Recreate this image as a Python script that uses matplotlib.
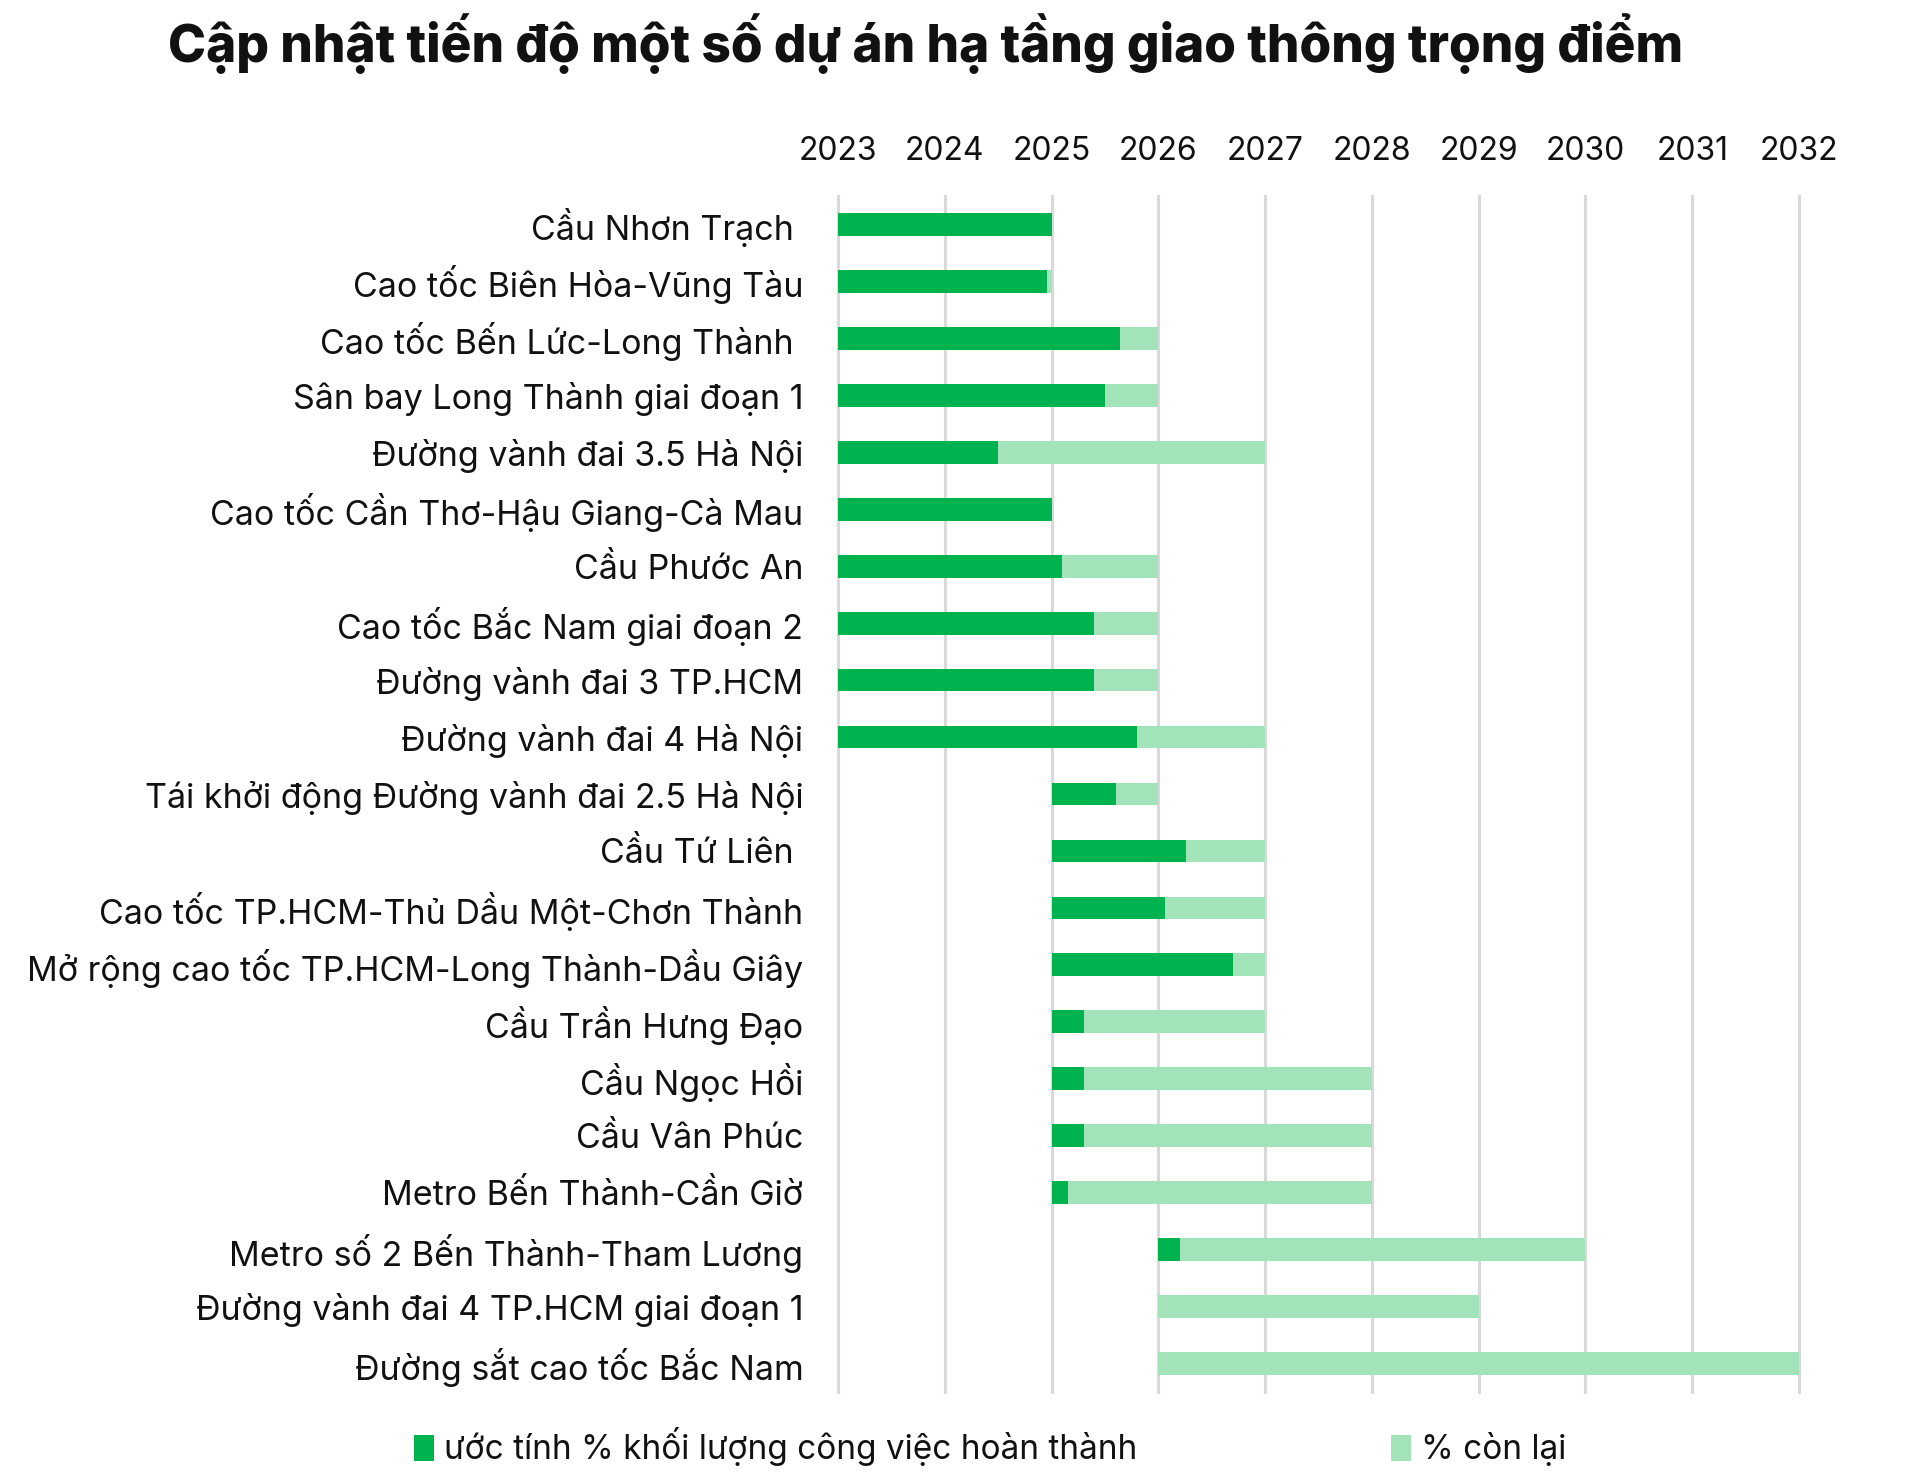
import matplotlib
matplotlib.use("Agg")
import matplotlib.pyplot as plt
from matplotlib.patches import Patch

plt.rcParams['font.family'] = ['Inter', 'DejaVu Sans']

projects = [
    "Cầu Nhơn Trạch ",
    "Cao tốc Biên Hòa-Vũng Tàu",
    "Cao tốc Bến Lức-Long Thành ",
    "Sân bay Long Thành giai đoạn 1",
    "Đường vành đai 3.5 Hà Nội",
    "Cao tốc Cần Thơ-Hậu Giang-Cà Mau",
    "Cầu Phước An",
    "Cao tốc Bắc Nam giai đoạn 2",
    "Đường vành đai 3 TP.HCM",
    "Đường vành đai 4 Hà Nội",
    "Tái khởi động Đường vành đai 2.5 Hà Nội",
    "Cầu Tứ Liên ",
    "Cao tốc TP.HCM-Thủ Dầu Một-Chơn Thành",
    "Mở rộng cao tốc TP.HCM-Long Thành-Dầu Giây",
    "Cầu Trần Hưng Đạo",
    "Cầu Ngọc Hồi",
    "Cầu Vân Phúc",
    "Metro Bến Thành-Cần Giờ",
    "Metro số 2 Bến Thành-Tham Lương",
    "Đường vành đai 4 TP.HCM giai đoạn 1",
    "Đường sắt cao tốc Bắc Nam",
]
start_year = [2023, 2023, 2023, 2023, 2023, 2023, 2023, 2023, 2023, 2023,
              2025, 2025, 2025, 2025, 2025, 2025, 2025, 2025, 2026, 2026, 2026]
done_until = [2025.0, 2024.96, 2025.64, 2025.50, 2024.50, 2025.0, 2025.10, 2025.40, 2025.40, 2025.80,
              2025.60, 2026.26, 2026.06, 2026.70, 2025.30, 2025.30, 2025.30, 2025.15, 2026.20, 2026.0, 2026.0]
end_year = [2025, 2025, 2026, 2026, 2027, 2025, 2026, 2026, 2026, 2027,
            2026, 2027, 2027, 2027, 2027, 2028, 2028, 2028, 2030, 2029, 2032]
years = list(range(2023, 2033))
legend_labels = ["ước tính % khối lượng công việc hoàn thành", "% còn lại"]

GREEN = "#00B34F"
LIGHT = "#A3E3B9"

fig = plt.figure(figsize=(19.2, 14.82), dpi=100)
ax = fig.add_axes([838 / 1920, 1 - 1392 / 1482, (1799 - 838) / 1920, (1392 - 196) / 1482])

ypos = list(range(len(projects)))
done_w = [d - s for d, s in zip(done_until, start_year)]
rem_w = [e - d for e, d in zip(end_year, done_until)]
ax.barh(ypos, done_w, left=start_year, height=0.4, color=GREEN, zorder=3)
ax.barh(ypos, rem_w, left=done_until, height=0.4, color=LIGHT, zorder=3)

ax.set_ylim(len(projects) - 0.5, -0.5)
ax.set_xlim(2023, 2032)
ax.set_xticks(years)
ax.set_xticklabels([str(y) for y in years])
ax.xaxis.tick_top()
ax.tick_params(axis='x', length=0, labelsize=23, pad=21)
ax.set_yticks(ypos)
ax.set_yticklabels(projects)
ax.tick_params(axis='y', length=0, labelsize=24.5, pad=25)
for lbl in ax.get_yticklabels():
    lbl.set_color("#111111")
for lbl in ax.get_xticklabels():
    lbl.set_color("#111111")

for x in years:
    ax.axvline(x, color="#D9D9D9", lw=2.2, zorder=1, clip_on=False)
for s in ax.spines.values():
    s.set_visible(False)

fig.text(926 / 1920, 1 - 44 / 1482, "Cập nhật tiến độ một số dự án hạ tầng giao thông trọng điểm",
         ha="center", va="center", fontsize=37, fontweight="heavy", color="#111111")

handles = [Patch(facecolor=GREEN), Patch(facecolor=LIGHT)]
fig.legend(handles, legend_labels, loc="center left", bbox_to_anchor=(414 / 1920, 1 - 1447 / 1482),
           ncol=2, frameon=False, fontsize=24, handlelength=0.6, handleheight=0.8,
           handletextpad=0.3, columnspacing=7.6, labelcolor="#111111",
           borderpad=0, borderaxespad=0)

fig.savefig("out.png", dpi=100, facecolor="white")
